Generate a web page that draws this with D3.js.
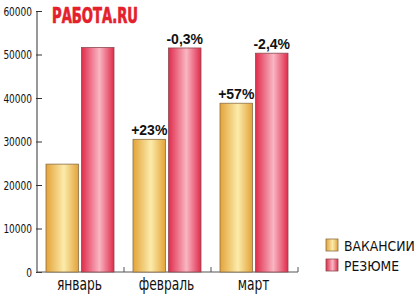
<!DOCTYPE html>
<html lang="ru">
<head>
<meta charset="UTF-8">
<title>Вакансии и резюме</title>
<script src="https://d3js.org/d3.v7.min.js"></script>
<style>
    body { margin: 0; background: #fff; }
    text { font-family: "DejaVu Sans Condensed", "Liberation Sans", sans-serif; fill: #111; }
    .tick text { font-size: 12.5px; }
    .cat { font-size: 17.5px; }
    .pct { font-family: "Liberation Sans", Arial, sans-serif; font-size: 14px; font-weight: bold; }
    .leg { font-size: 14.5px; }
</style>
</head>
<body>
<svg width="420" height="299"></svg>
<script>
const months = ["январь", "февраль", "март"];
const seriesNames = ["ВАКАНСИИ", "РЕЗЮМЕ"];
const vacancies = [24800, 30500, 38800];
const resumes = [51600, 51500, 50300];
const vacLabels = ["", "+23%", "+57%"];
const resLabels = ["", "-0,3%", "-2,4%"];
const yTicks = [0, 10000, 20000, 30000, 40000, 50000, 60000];

const svg = d3.select("svg");
const plotL = 37, plotR = 298, plotT = 11, plotB = 272;

const x = d3.scaleBand().domain(months).range([plotL, plotR]);
const xs = d3.scaleBand().domain(seriesNames).range([9, x.bandwidth() - 10]).paddingInner(0.085);
const y = d3.scaleLinear().domain([0, 60000]).range([plotB, plotT]);

// squeeze a text horizontally (the original uses a narrow font)
function condense(sel, k) {
    sel.each(function() {
        const w = this.getComputedTextLength();
        if (w > 0) d3.select(this).attr("textLength", w * k).attr("lengthAdjust", "spacingAndGlyphs");
    });
}

// gradients for bars
const defs = svg.append("defs");
function grad(id, edge, mid) {
    const g = defs.append("linearGradient").attr("id", id).attr("x1", 0).attr("x2", 1).attr("y1", 0).attr("y2", 0);
    g.append("stop").attr("offset", "0%").attr("stop-color", edge);
    g.append("stop").attr("offset", "55%").attr("stop-color", mid);
    g.append("stop").attr("offset", "100%").attr("stop-color", edge);
}
grad("gVac", "#e3a338", "#fcebab");
grad("gRes", "#e02c4c", "#f9b6c3");
const fills = ["url(#gVac)", "url(#gRes)"];
const strokes = ["#8c7048", "#8a4a52"];

// y axis
const yAxis = svg.append("g")
    .attr("transform", `translate(${plotL},0)`)
    .call(d3.axisRight(y).tickValues(yTicks).tickSize(5).tickFormat(d3.format("d")));
yAxis.select(".domain").remove();
yAxis.selectAll(".tick line").attr("stroke", "#333").attr("x1", -1);
yAxis.selectAll(".tick text").attr("x", -5).attr("text-anchor", "end").call(condense, 0.8);
svg.append("line").attr("x1", plotL).attr("x2", plotL).attr("y1", plotT).attr("y2", plotB).attr("stroke", "#333");

// x axis baseline with inner ticks
svg.append("line").attr("x1", plotL).attr("x2", plotR).attr("y1", plotB).attr("y2", plotB).attr("stroke", "#555");
svg.selectAll(".xt").data(months).enter().append("line")
    .attr("x1", d => x(d) + x.bandwidth()).attr("x2", d => x(d) + x.bandwidth())
    .attr("y1", plotB).attr("y2", plotB - 5).attr("stroke", "#555");

svg.selectAll(".cat").data(months).enter().append("text")
    .attr("class", "cat")
    .attr("x", d => x(d) + x.bandwidth() / 2 - 1)
    .attr("y", 290)
    .attr("text-anchor", "middle")
    .text(d => d)
    .call(condense, 0.78);

// bars
const series = [vacancies, resumes];
const labels = [vacLabels, resLabels];
series.forEach((vals, si) => {
    const g = svg.append("g");
    g.selectAll("rect").data(vals).enter().append("rect")
        .attr("x", (d, i) => x(months[i]) + xs(seriesNames[si]))
        .attr("y", d => y(d))
        .attr("width", xs.bandwidth())
        .attr("height", d => plotB - y(d))
        .attr("fill", fills[si])
        .attr("stroke", strokes[si])
        .attr("stroke-width", 0.8);
    g.selectAll("text").data(vals).enter().append("text")
        .attr("class", "pct")
        .attr("x", (d, i) => x(months[i]) + xs(seriesNames[si]) + xs.bandwidth() / 2)
        .attr("y", d => y(d) - 4)
        .attr("text-anchor", "middle")
        .text((d, i) => labels[si][i]);
});

// logo
svg.append("text")
    .attr("x", 52).attr("y", 22.5)
    .attr("textLength", 86).attr("lengthAdjust", "spacingAndGlyphs")
    .style("font-family", "'DejaVu Sans Condensed', sans-serif")
    .style("font-weight", "bold")
    .style("font-size", "22px")
    .style("fill", "#e3202b")
    .style("stroke", "#e3202b")
    .style("stroke-width", "0.7px")
    .text("РАБОТА.RU");

// legend
const leg = svg.append("g").attr("transform", "translate(326,239)");
seriesNames.forEach((name, i) => {
    leg.append("rect").attr("x", 0).attr("y", i * 20).attr("width", 12).attr("height", 12)
        .attr("fill", fills[i]).attr("stroke", strokes[i]).attr("stroke-width", 0.8);
    leg.append("text").attr("class", "leg").attr("x", 18).attr("y", i * 20 + 11.5).text(name).call(condense, 0.95);
});
</script>
</body>
</html>
